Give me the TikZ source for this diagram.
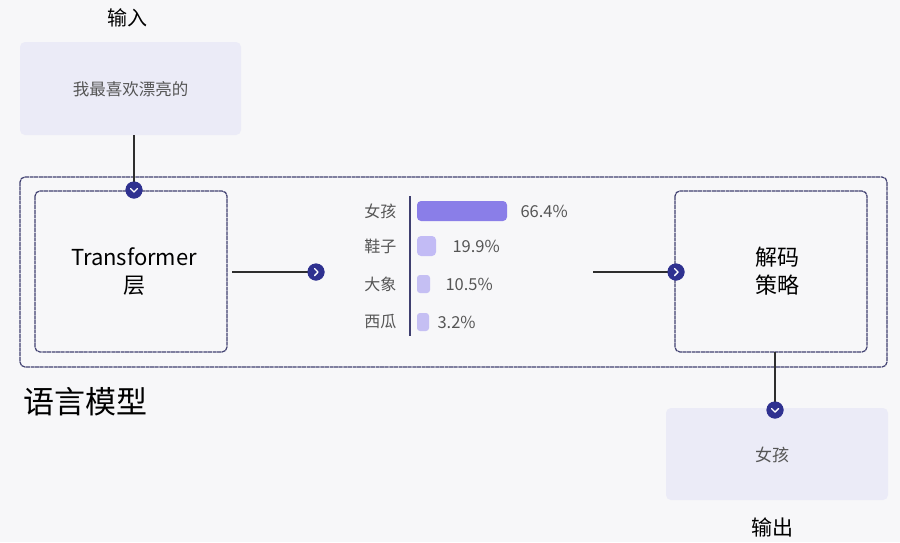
\documentclass[tikz,border=0pt]{standalone}
\usepackage{fontspec}
\setmainfont{Noto Sans CJK SC}
\begin{document}
\begin{tikzpicture}[x=1pt,y=-1pt,
  softbox/.style={fill=lav,rounded corners=5pt,inner sep=0pt},
  framebox/.style={draw=frame,line width=1.2pt,dash pattern=on 4pt off 0.6pt,rounded corners=5pt,inner sep=0pt},
  link/.style={draw=linec,line width=2.4pt},
  marker/.style={circle,fill=mk,inner sep=0pt,minimum size=17pt},
  chev/.style={draw=white,line width=1.4pt,line cap=round,line join=round},
  lbl/.style={text=labc,font=\fontsize{16}{18}\selectfont},
  pct/.style={text=labc,font=\fontsize{16.5}{18}\selectfont,anchor=west},
  inner/.style={minimum width=192pt,minimum height=161pt,align=center,font=\fontsize{22}{28}\selectfont}
]
\definecolor{bgcol}{HTML}{F7F7F9}
\definecolor{lav}{HTML}{EBEBF7}
\definecolor{frame}{HTML}{3F3F70}
\definecolor{mk}{HTML}{2F3190}
\definecolor{linec}{HTML}{2E2E2E}
\definecolor{labc}{HTML}{555555}
\definecolor{barA}{HTML}{8A7EE8}
\definecolor{barB}{HTML}{C2BBF5}
\definecolor{barC}{HTML}{C5BFF3}
\fill[bgcol] (0,0) rectangle (900,542);
\useasboundingbox (0,0) rectangle (900,542);

% titles
\node (tin) at (127,18) {\fontsize{20}{22}\selectfont 输入};
\node (tout) at (772,527) {\fontsize{21}{22}\selectfont 输出};
\node[anchor=west] (tlm) at (20,402) {\fontsize{31}{34}\selectfont 语言模型};

% input / output boxes
\path[softbox] (20,42) rectangle (241,135);
\node[minimum width=221pt,minimum height=93pt] (inbox) at (130.5,88.5) {};
\node[text=labc] (intext) at (130.5,89) {\fontsize{16.5}{18}\selectfont 我最喜欢漂亮的};
\path[softbox] (666,408) rectangle (888,500);
\node[minimum width=222pt,minimum height=92pt] (outbox) at (777,454) {};
\node[text=labc] (outtext) at (772,455) {\fontsize{17}{18}\selectfont 女孩};

% frames
\path[framebox] (20,177) rectangle (887,367);
\node[minimum width=867pt,minimum height=190pt] (lm) at (453.5,272) {};
\path[framebox] (35,191) rectangle (227,352);
\node[inner] (tf) at (134,271.5) {Transformer\\层};
\path[framebox] (675,191) rectangle (867,352);
\node[inner] (dec) at (777,271.5) {解码\\策略};

% chart
\coordinate (axtop) at (410,196);
\coordinate (axbot) at (410,336);
\draw[frame,line width=1.1pt] (axtop) -- (axbot);
\node[lbl,anchor=east] (l1) at (400,211) {女孩};
\node[lbl,anchor=east] (l2) at (400,246) {鞋子};
\node[lbl,anchor=east] (l3) at (400,284) {大象};
\node[lbl,anchor=east] (l4) at (400,322) {西瓜};
\fill[barA,rounded corners=4pt] (417,201) rectangle (507,221);
\fill[barB,rounded corners=4pt] (417,236) rectangle (436,256);
\fill[barC,rounded corners=3pt] (417,275) rectangle (430,293);
\fill[barC,rounded corners=3pt] (417,313) rectangle (429,331);
\node[pct] (p1) at (517,211) {66.4\%};
\node[pct] (p2) at (449,246) {19.9\%};
\node[pct] (p3) at (442,284) {10.5\%};
\node[pct] (p4) at (434,322) {3.2\%};

% connectors
\coordinate (c1s) at (134,135);
\coordinate (c2s) at (232,272);
\coordinate (c3s) at (593,272);
\coordinate (c4s) at (775,352);
\node[marker] (m1) at (134,190) {};
\node[marker] (m2) at (316,272) {};
\node[marker] (m3) at (676,272) {};
\node[marker] (m4) at (775,410) {};
\draw[link] (c1s) -- (m1.center);
\draw[link] (c2s) -- (m2.center);
\draw[link] (c3s) -- (m3.center);
\draw[link] (c4s) -- (m4.center);
\foreach \m in {m1,m2,m3,m4} \node[marker] at (\m) {};
\foreach \m in {m1,m4} \draw[chev] ([shift={(-3.5,-1.5)}]\m.center) -- ([shift={(0,2)}]\m.center) -- ([shift={(3.5,-1.5)}]\m.center);
\foreach \m in {m2,m3} \draw[chev] ([shift={(-1.5,-3.5)}]\m.center) -- ([shift={(2,0)}]\m.center) -- ([shift={(-1.5,3.5)}]\m.center);
\end{tikzpicture}
\end{document}
